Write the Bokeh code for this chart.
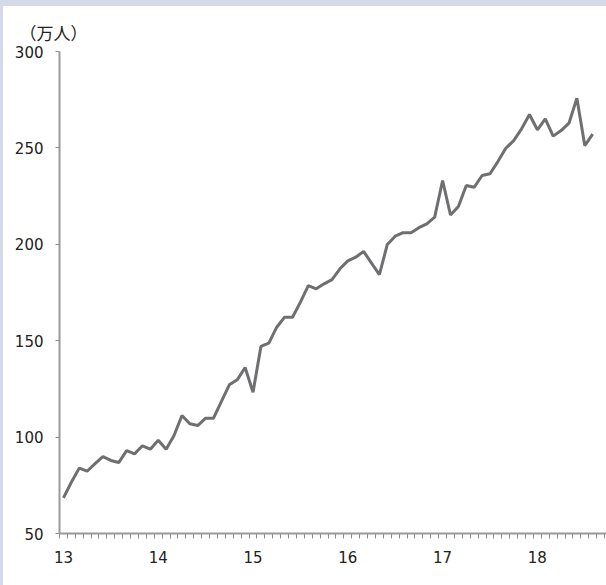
from bokeh.plotting import figure
from bokeh.embed import file_html
from bokeh.resources import INLINE
from bokeh.models import Range1d, FixedTicker, ColumnDataSource, LinearAxis
from bokeh.layouts import column

# Monthly values, Jan 2013 - Aug 2018 (万人)
years = ["13", "14", "15", "16", "17", "18"]
v2013 = [68.5, 76.6, 83.9, 82.3, 86.2, 89.9, 87.9, 86.8, 93.0, 91.3, 95.5, 93.7]
v2014 = [98.4, 93.7, 100.8, 111.2, 106.9, 106.0, 109.8, 109.8, 118.5, 127.1, 129.7, 136.1]
v2015 = [123.3, 147.0, 148.7, 157.0, 162.2, 162.2, 170.0, 178.6, 176.9, 179.5, 181.7, 187.3]
v2016 = [191.4, 193.3, 196.3, 190.2, 184.3, 199.9, 204.2, 206.0, 206.0, 208.6, 210.6, 214.1]
v2017 = [233.1, 215.2, 219.6, 230.5, 229.6, 235.7, 236.6, 242.9, 249.8, 253.8, 259.9, 267.3]
v2018 = [259.4, 265.1, 256.1, 259.0, 262.8, 275.8, 251.2, 257.1]

values = v2013 + v2014 + v2015 + v2016 + v2017 + v2018
months = [i + 0.5 for i in range(len(values))]

src = ColumnDataSource(dict(x=months, y=values))

W, H = 603, 579
p = figure(width=W, height=H, output_backend="svg", toolbar_location=None,
           x_range=Range1d(0, 69.25), y_range=Range1d(50, 300),
           min_border_left=56, min_border_right=0, min_border_top=45,
           min_border_bottom=52)
p.margin = (6, 0, 0, 3)
p.styles = {"background-color": "white"}
p.background_fill_color = "white"
p.border_fill_color = "white"
p.outline_line_color = None
p.grid.grid_line_color = None

p.line("x", "y", source=src, line_color="#6f6f71", line_width=3)

# x axis 1: month boundary ticks only
tick_pos = [float(i) for i in range(0, 70)]
p.xaxis.ticker = FixedTicker(ticks=tick_pos, minor_ticks=[])
p.xaxis.major_label_overrides = {t: "" for t in tick_pos}
p.xaxis.major_label_standoff = 0
p.xaxis.major_tick_out = 5
p.xaxis.major_tick_in = 0

# x axis 2: year labels centred on January
year_pos = [12 * k + 0.5 for k in range(len(years))]
ax2 = LinearAxis(ticker=FixedTicker(ticks=year_pos, minor_ticks=[]),
                 major_label_overrides={t: y for t, y in zip(year_pos, years)},
                 axis_line_color=None, major_tick_line_color=None,
                 minor_tick_line_color=None, major_tick_out=0, major_tick_in=0,
                 major_label_standoff=12,
                 major_label_text_font="DejaVu Sans",
                 major_label_text_font_size="15px",
                 major_label_text_color="#222222")
p.add_layout(ax2, "below")

# y axis
p.yaxis.ticker = FixedTicker(ticks=[50, 100, 150, 200, 250, 300], minor_ticks=[])
p.yaxis.major_tick_out = 4
p.yaxis.major_tick_in = 0
p.yaxis.major_label_standoff = 12
p.yaxis.major_label_text_font = "DejaVu Sans"
p.yaxis.major_label_text_font_size = "15px"
p.yaxis.major_label_text_color = "#222222"

for ax in (p.xaxis[0], p.yaxis[0]):
    ax.axis_line_color = "#9a9a9a"
    ax.axis_line_width = 2
    ax.major_tick_line_color = "#8f8f8f"
    ax.major_tick_line_width = 1

p.title.text = "（万人）"
p.title.text_font = "Noto Sans CJK JP"
p.title.text_font_size = "17px"
p.title.text_font_style = "normal"
p.title.text_color = "#222222"
p.title.align = "left"
p.title.offset = -40
p.title.standoff = 14

layout = column(p, styles={"background-color": "#d4dae9"}, width=606, height=585)

open("out.html", "w").write(file_html(layout, INLINE))
